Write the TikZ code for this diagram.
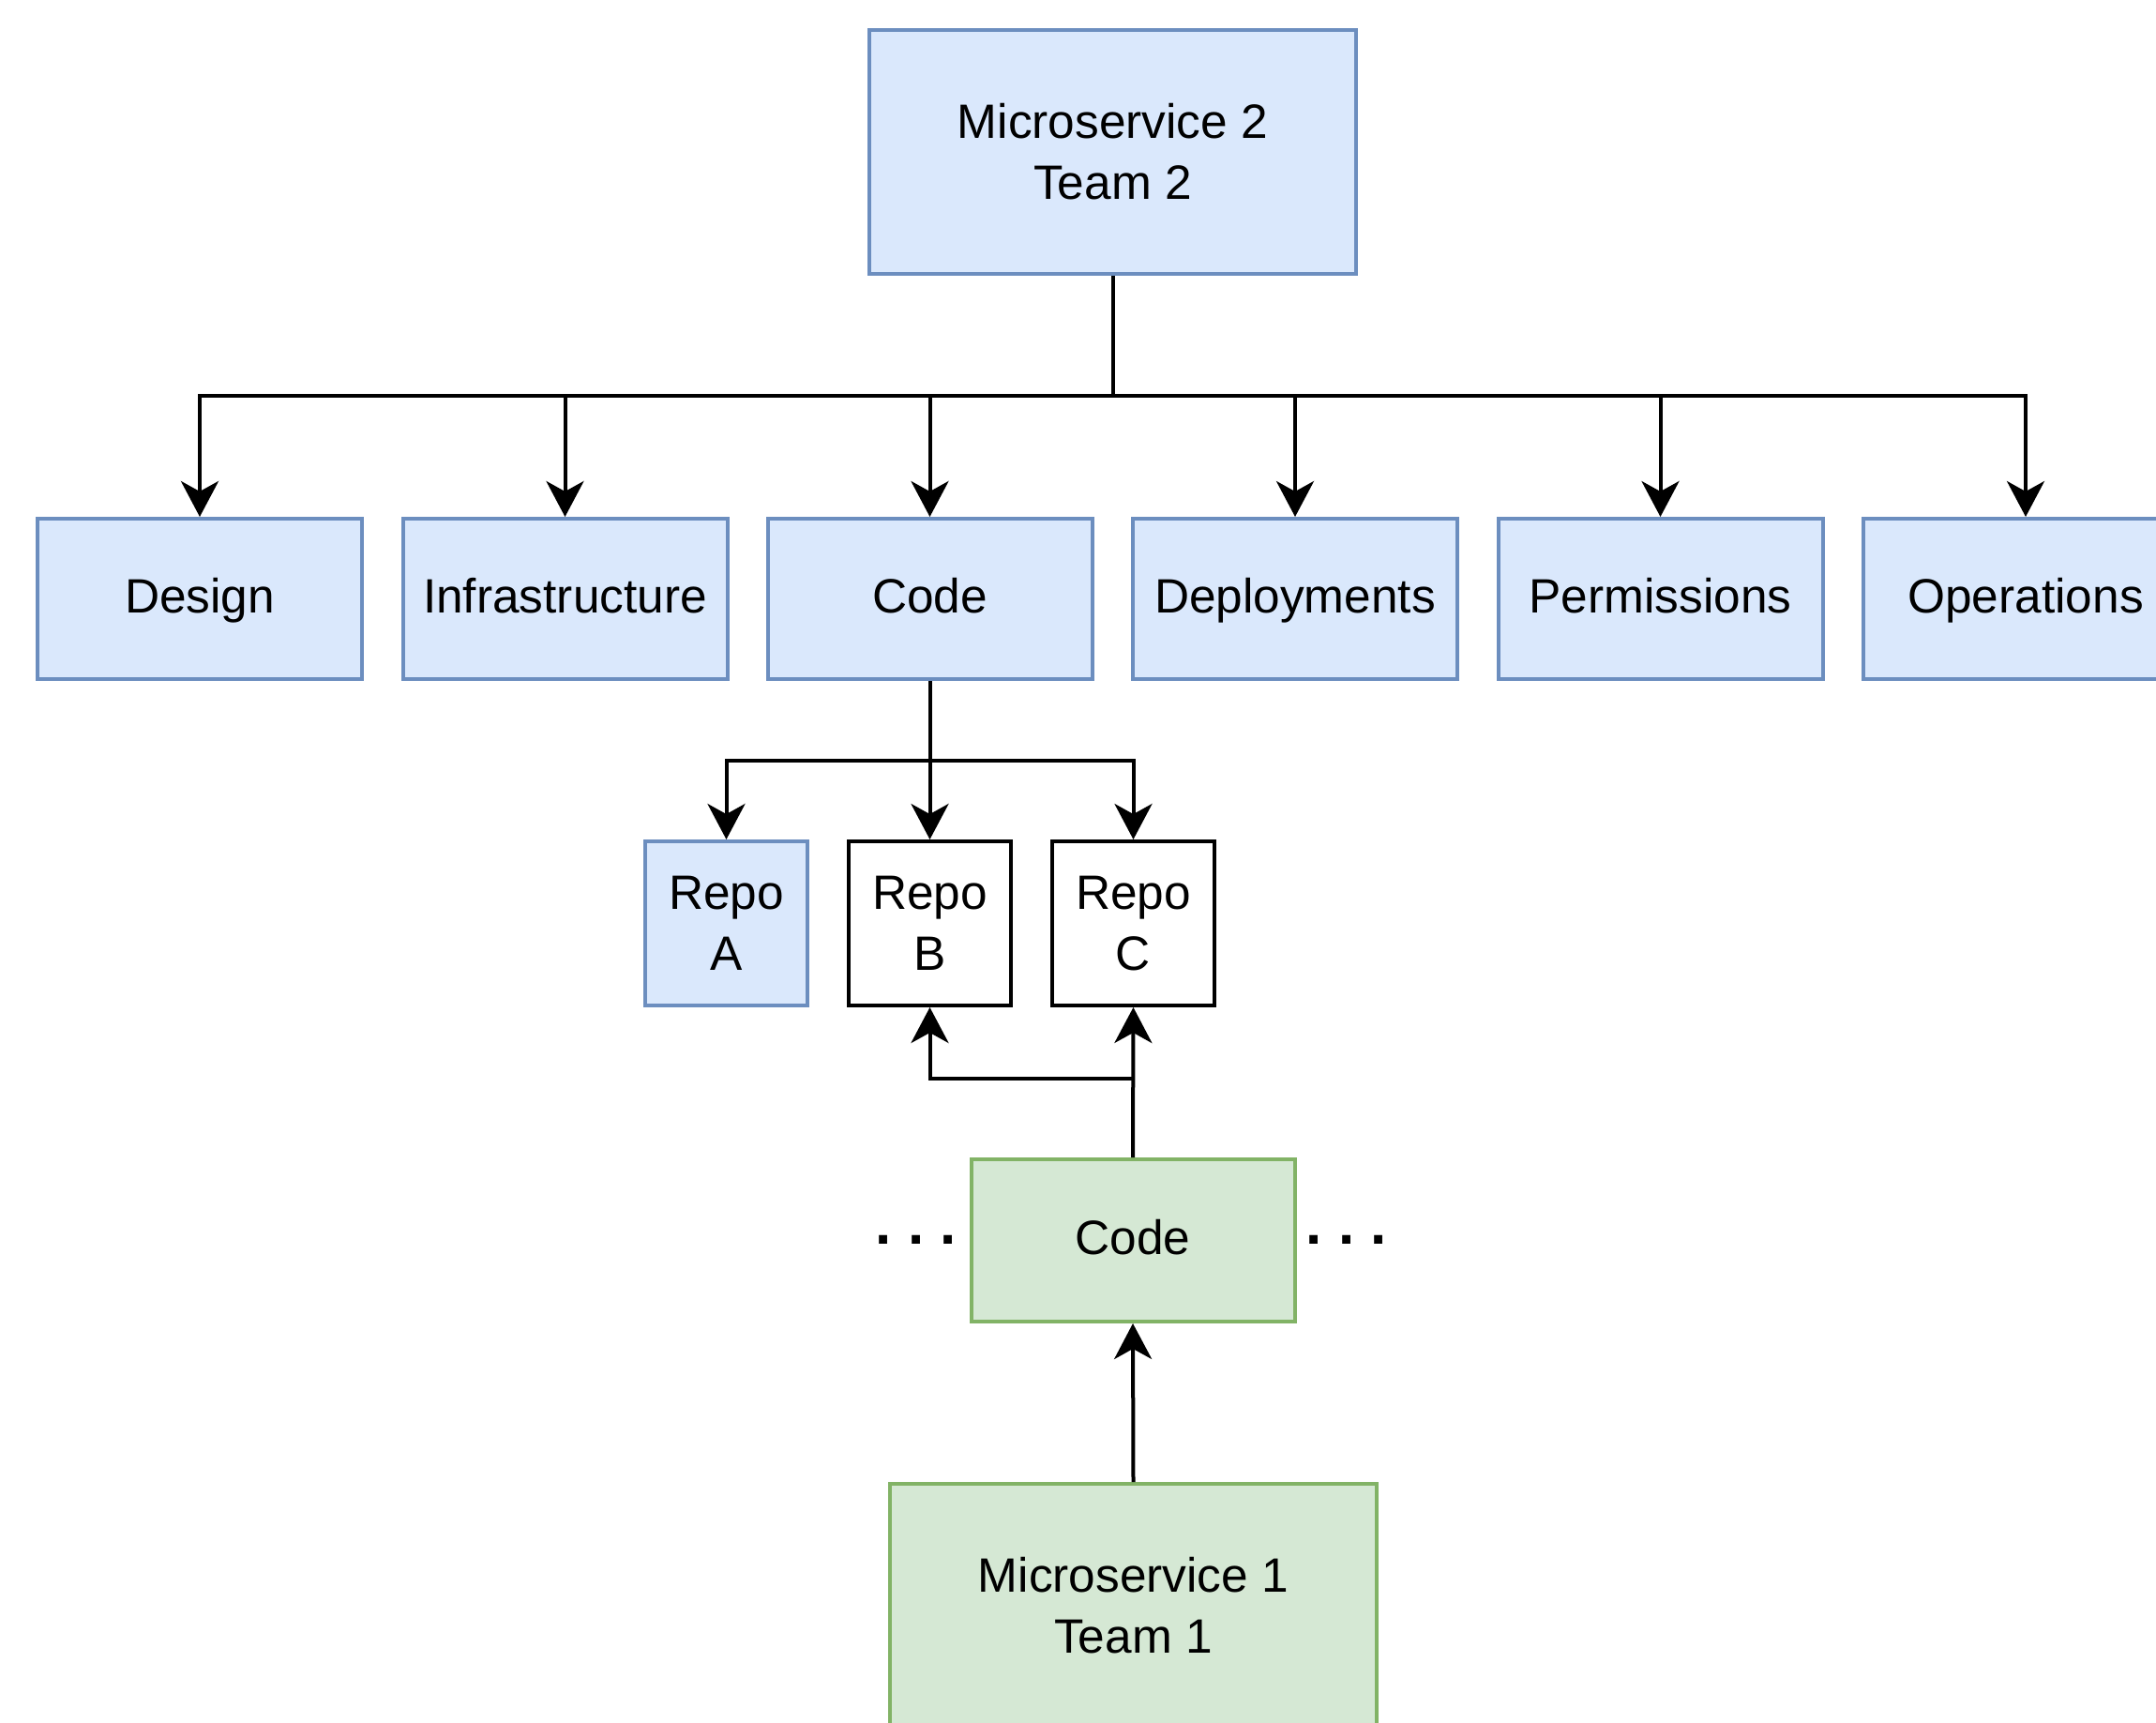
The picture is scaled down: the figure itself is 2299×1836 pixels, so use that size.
\documentclass[tikz,border=0pt]{standalone}
\usepackage{fontspec}
\setmainfont{Liberation Sans}
\usetikzlibrary{arrows.meta}

\definecolor{bluefill}{HTML}{DAE8FC}
\definecolor{bluedraw}{HTML}{6C8EBF}
\definecolor{greenfill}{HTML}{D5E8D4}
\definecolor{greendraw}{HTML}{82B366}

\tikzset{
  box/.style={rectangle, line width=4pt, inner sep=0pt, align=center,
    font=\fontsize{51.4}{65}\selectfont},
  bluebox/.style={box, fill=bluefill, draw=bluedraw},
  greenbox/.style={box, fill=greenfill, draw=greendraw},
  plainbox/.style={box, fill=white, draw=black},
  oneline/.style={text height=40pt, text depth=11pt},
  bigbox/.style={minimum width=519pt, minimum height=260pt},
  rowbox/.style={oneline, minimum width=346pt, minimum height=171pt},
  repobox/.style={minimum width=173pt, minimum height=175pt},
  link/.style={line width=4pt, draw=black,
    -{Stealth[length=38pt, width=40pt, inset=11pt]}},
  wire/.style={line width=4pt, draw=black},
  ellipsis/.style={inner sep=0pt, font=\fontsize{62}{70}\selectfont\bfseries}
}

\begin{document}
\begin{tikzpicture}[x=1pt, y=-1pt]
  \useasboundingbox (0,0) rectangle (2299,1836);
  \clip (0,0) rectangle (2299,1836);

  % Microservice 2 and its areas
  \node[bluebox, bigbox] (ms2) at (1186.5,162) {Microservice 2\\Team 2};

  \node[bluebox, rowbox] (design) at (213,638.5) {Design};
  \node[bluebox, rowbox] (infra)  at (602.5,638.5) {Infrastructure};
  \node[bluebox, rowbox] (code)   at (991.5,638.5) {Code};
  \node[bluebox, rowbox] (deploy) at (1381,638.5) {Deployments};
  \node[bluebox, rowbox] (perm)   at (1770.5,638.5) {Permissions};
  \node[bluebox, rowbox] (ops)    at (2160,638.5) {Operations};

  % repositories under Code
  \node[bluebox,  repobox] (repoA) at (774.5,984.5) {Repo\\A};
  \node[plainbox, repobox] (repoB) at (991.5,984.5) {Repo\\B};
  \node[plainbox, repobox] (repoC) at (1208.5,984.5) {Repo\\C};

  % Microservice 1 side
  \node[greenbox, oneline, minimum width=345pt, minimum height=173pt] (code1) at (1208,1322.5) {Code};
  \node[greenbox, bigbox] (ms1) at (1208.5,1712) {Microservice 1\\Team 1};

  \node[ellipsis] (dotsL) at (977,1321.5) {.\ .\ .};
  \node[ellipsis] (dotsR) at (1436,1321.5) {.\ .\ .};

  % bus levels
  \coordinate (bus)  at (1186.5,422);
  \coordinate (rbus) at (991.5,811);
  \coordinate (jn)   at (1208.5,1150);

  % Microservice 2 fan-out
  \draw[wire] (ms2.south) -- (ms2.south |- bus);
  \foreach \n in {design,infra,code,deploy,perm,ops}
    \draw[link] (ms2.south |- bus) -| (\n.north);

  % Code fan-out to repositories
  \draw[wire] (code.south) -- (code.south |- rbus);
  \foreach \n in {repoA,repoB,repoC}
    \draw[link] (code.south |- rbus) -| (\n.north);

  % Microservice 1 code uses repos B and C
  \draw[link] (code1.north) -- (repoC.south);
  \draw[link] (code1.north |- jn) -| (repoB.south);

  \draw[link] (ms1.north) -- (code1.south);
\end{tikzpicture}
\end{document}
